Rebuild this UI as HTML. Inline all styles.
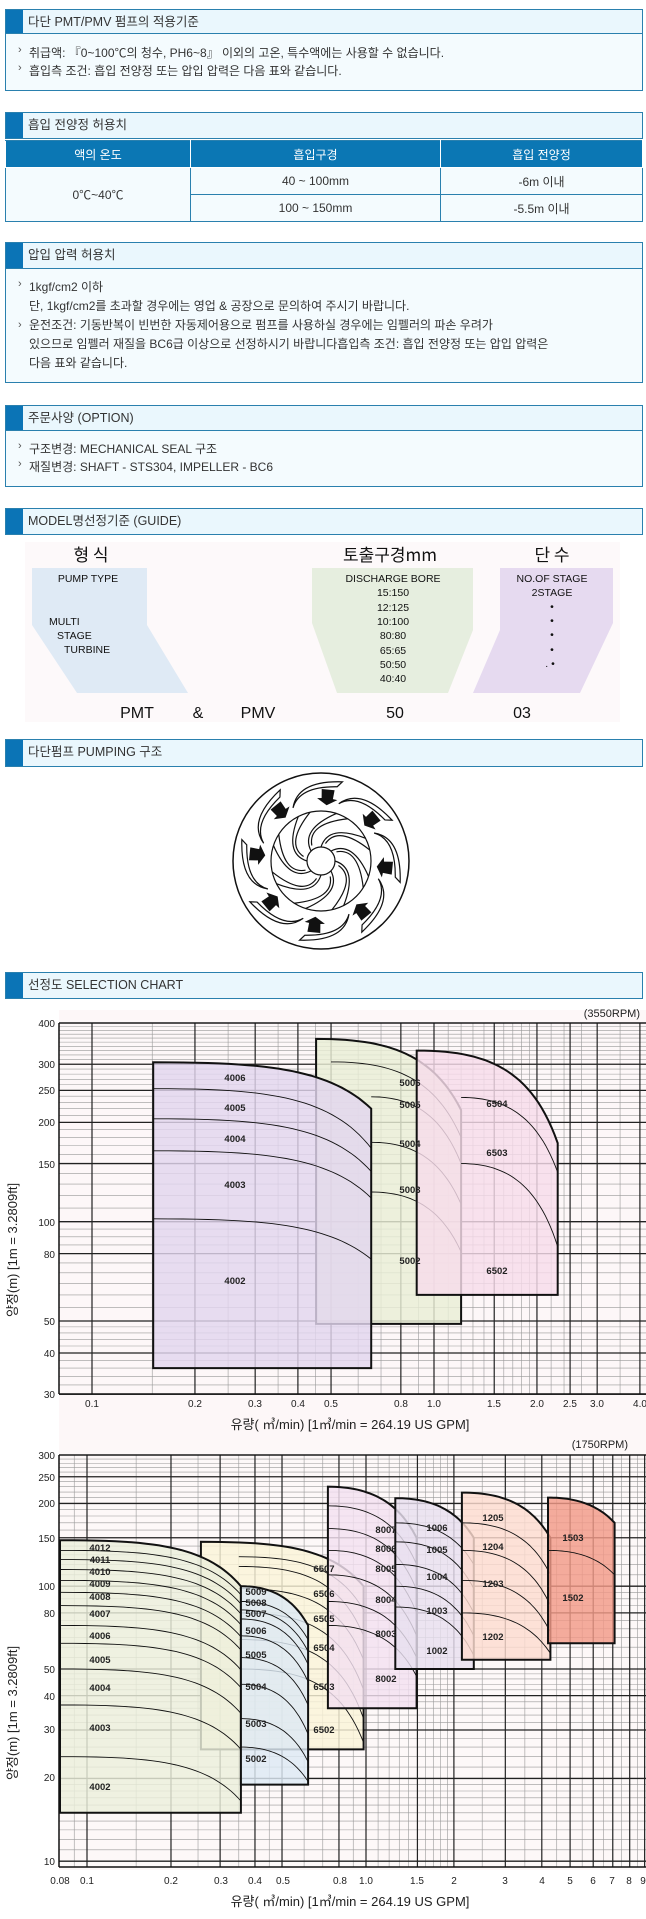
<!DOCTYPE html>
<html><head><meta charset="utf-8">
<style>
*{margin:0;padding:0;box-sizing:border-box}
body{width:646px;height:1919px;background:#fff;position:relative;overflow:hidden;font-family:"Liberation Sans","Noto Sans CJK KR",sans-serif;color:#333}
.box{position:absolute;left:5px;width:638px;border:1px solid #2a80ae;background:#f4fbfe}
.hd{position:absolute;left:5px;width:638px;border:1px solid #2a80ae;background:#eaf7fd;font-size:12.5px;line-height:24px;padding-left:22px;color:#333}
.hd:before{content:"";position:absolute;left:0;top:0;bottom:0;width:17px;background:#0b74b6}
.t{position:absolute;font-size:12px;white-space:nowrap;color:#333}
.b{position:absolute;font-size:11px;color:#555}
table{position:absolute;left:5px;top:140px;width:638px;border-collapse:collapse;font-size:12px}
td{border:1px solid #2a80ae;text-align:center;background:#f4fbfe;height:27px}
th{background:#0b77b4;color:#fff;font-weight:normal;height:27px;border:1px solid #fff;border-top-color:#2a80ae}
svg{position:absolute;left:0;top:0}
</style></head><body>

<div class="box" style="top:9px;height:82px"></div>
<div class="hd" style="top:9px;height:25px">다단 PMT/PMV 펌프의 적용기준</div>
<div class="b" style="left:18px;top:44px">›</div><div class="t" style="left:29px;top:44px">취급액: 『0~100℃의 청수, PH6~8』 이외의 고온, 특수액에는 사용할 수 없습니다.</div>
<div class="b" style="left:18px;top:62px">›</div><div class="t" style="left:29px;top:62px">흡입측 조건: 흡입 전양정 또는 압입 압력은 다음 표와 같습니다.</div>

<div class="hd" style="top:112px;height:27px">흡입 전양정 허용치</div>
<table>
<tr><th style="width:185px">액의 온도</th><th style="width:250px">흡입구경</th><th>흡입 전양정</th></tr>
<tr><td rowspan="2">0℃~40℃</td><td>40 ~ 100mm</td><td>-6m 이내</td></tr>
<tr><td>100 ~ 150mm</td><td>-5.5m 이내</td></tr>
</table>

<div class="box" style="top:242px;height:141px"></div>
<div class="hd" style="top:242px;height:27px">압입 압력 허용치</div>
<div class="b" style="left:18px;top:278px">›</div><div class="t" style="left:29px;top:278px">1kgf/cm2 이하</div>
<div class="t" style="left:29px;top:297px">단, 1kgf/cm2를 초과할 경우에는 영업 &amp; 공장으로 문의하여 주시기 바랍니다.</div>
<div class="b" style="left:18px;top:319px">›</div><div class="t" style="left:29px;top:316px">운전조건: 기동반복이 빈번한 자동제어용으로 펌프를 사용하실 경우에는 임펠러의 파손 우려가</div>
<div class="t" style="left:29px;top:335px">있으므로 임펠러 재질을 BC6급 이상으로 선정하시기 바랍니다흡입측 조건: 흡입 전양정 또는 압입 압력은</div>
<div class="t" style="left:29px;top:354px">다음 표와 같습니다.</div>

<div class="box" style="top:405px;height:82px"></div>
<div class="hd" style="top:405px;height:26px">주문사양 (OPTION)</div>
<div class="b" style="left:18px;top:440px">›</div><div class="t" style="left:29px;top:440px">구조변경: MECHANICAL SEAL 구조</div>
<div class="b" style="left:18px;top:458px">›</div><div class="t" style="left:29px;top:458px">재질변경: SHAFT - STS304, IMPELLER - BC6</div>

<div class="hd" style="top:508px;height:27px">MODEL명선정기준 (GUIDE)</div>
<div class="hd" style="top:739px;height:28px">다단펌프 PUMPING 구조</div>
<div class="hd" style="top:972px;height:27px">선정도 SELECTION CHART</div>

<svg width="646" height="1919" viewBox="0 0 646 1919" font-family="Liberation Sans, Noto Sans CJK KR, sans-serif">
<rect x="25" y="542" width="595" height="180" fill="#fdf9fa"/>
<polygon points="32,568 147,568 147,625 188,693 77,693 32,625" fill="#dfeaf5"/>
<polygon points="312,568 473,568 473,630 448,693 337,693 312,623" fill="#e6eedf"/>
<polygon points="500,568 613,568 613,623 580,693 473,693 500,630" fill="#e6daf0"/>
<g fill="#111" font-size="10.5" text-anchor="middle">
<text x="91" y="561" font-size="17" font-family="Noto Sans CJK KR, sans-serif">형 식</text>
<text x="88" y="582">PUMP  TYPE</text>
<text x="49" y="625" text-anchor="start">MULTI</text>
<text x="57" y="639" text-anchor="start">STAGE</text>
<text x="64" y="653" text-anchor="start">TURBINE</text>
<text x="390" y="561" font-size="17" font-family="Noto Sans CJK KR, sans-serif">토출구경mm</text>
<text x="393" y="582">DISCHARGE  BORE</text>
<text x="393" y="596">15:150</text><text x="393" y="611">12:125</text><text x="393" y="625">10:100</text>
<text x="393" y="639">80:80</text><text x="393" y="654">65:65</text><text x="393" y="668">50:50</text><text x="393" y="682">40:40</text>
<text x="552" y="561" font-size="17" font-family="Noto Sans CJK KR, sans-serif">단 수</text>
<text x="552" y="582">NO.OF  STAGE</text>
<text x="552" y="596">2STAGE</text>
<text x="552" y="610">•</text><text x="552" y="624">•</text><text x="552" y="638">•</text><text x="552" y="653">•</text><text x="550" y="667">. •</text>
<g font-size="16"><text x="137" y="718">PMT</text><text x="198" y="718">&amp;</text><text x="258" y="718">PMV</text><text x="395" y="718">50</text><text x="522" y="718">03</text></g>
</g>
<g id="pump" fill="none" stroke="#111" stroke-width="1.2"></g>

<rect x="59" y="1010" width="587" height="430" fill="#fdf7f8"/>
<g id="c1"></g>
<g font-size="10" fill="#222" text-anchor="end">
<text x="640" y="1017" font-size="11">(3550RPM)</text>
<text x="55" y="1027">400</text><text x="55" y="1068">300</text><text x="55" y="1094">250</text><text x="55" y="1126">200</text>
<text x="55" y="1168">150</text><text x="55" y="1226">100</text><text x="55" y="1258">80</text><text x="55" y="1325">50</text>
<text x="55" y="1357">40</text><text x="55" y="1398">30</text>
</g>
<g font-size="10" fill="#222" text-anchor="middle">
<text x="92" y="1407">0.1</text><text x="195" y="1407">0.2</text><text x="255" y="1407">0.3</text><text x="298" y="1407">0.4</text>
<text x="331" y="1407">0.5</text><text x="401" y="1407">0.8</text><text x="434" y="1407">1.0</text><text x="494" y="1407">1.5</text>
<text x="537" y="1407">2.0</text><text x="570" y="1407">2.5</text><text x="597" y="1407">3.0</text><text x="640" y="1407">4.0</text>
<text x="350" y="1429" font-size="13">유량( ㎥/min)    [1㎥/min = 264.19  US  GPM]</text>
<text transform="translate(17,1250) rotate(-90)" font-size="13">양정(m)   [1m = 3.2809ft]</text>
</g>
<g font-size="9.5" font-weight="bold" fill="#222" text-anchor="middle">
<text x="235" y="1081">4006</text><text x="235" y="1111">4005</text><text x="235" y="1142">4004</text><text x="235" y="1188">4003</text><text x="235" y="1284">4002</text>
<text x="410" y="1086">5006</text><text x="410" y="1108">5005</text><text x="410" y="1147">5004</text><text x="410" y="1193">5003</text><text x="410" y="1264">5002</text>
<text x="497" y="1107">6504</text><text x="497" y="1156">6503</text><text x="497" y="1274">6502</text>
</g>

<rect x="59" y="1440" width="587" height="430" fill="#fdf8f8"/>
<g id="c2"></g>
<g font-size="10" fill="#222" text-anchor="end">
<text x="628" y="1448" font-size="11">(1750RPM)</text>
<text x="55" y="1459">300</text><text x="55" y="1481">250</text><text x="55" y="1507">200</text><text x="55" y="1542">150</text>
<text x="55" y="1590">100</text><text x="55" y="1617">80</text><text x="55" y="1673">50</text><text x="55" y="1700">40</text>
<text x="55" y="1733">30</text><text x="55" y="1781">20</text><text x="55" y="1865">10</text>
</g>
<g font-size="10" fill="#222" text-anchor="middle">
<text x="60" y="1884">0.08</text><text x="87" y="1884">0.1</text><text x="171" y="1884">0.2</text><text x="221" y="1884">0.3</text>
<text x="255" y="1884">0.4</text><text x="283" y="1884">0.5</text><text x="340" y="1884">0.8</text><text x="366" y="1884">1.0</text>
<text x="417" y="1884">1.5</text><text x="454" y="1884">2</text><text x="505" y="1884">3</text><text x="542" y="1884">4</text>
<text x="570" y="1884">5</text><text x="593" y="1884">6</text><text x="612" y="1884">7</text><text x="629" y="1884">8</text><text x="643" y="1884">9</text>
<text x="350" y="1906" font-size="13">유량( ㎥/min)    [1㎥/min = 264.19  US  GPM]</text>
<text transform="translate(17,1713) rotate(-90)" font-size="13">양정(m)   [1m = 3.2809ft]</text>
</g>
<g font-size="9.5" font-weight="bold" fill="#222" text-anchor="middle">
<text x="100" y="1551">4012</text><text x="100" y="1563">4011</text><text x="100" y="1575">4010</text><text x="100" y="1587">4009</text>
<text x="100" y="1600">4008</text><text x="100" y="1617">4007</text><text x="100" y="1639">4006</text><text x="100" y="1663">4005</text>
<text x="100" y="1691">4004</text><text x="100" y="1731">4003</text><text x="100" y="1790">4002</text>
<text x="256" y="1595">5009</text><text x="256" y="1606">5008</text><text x="256" y="1617">5007</text><text x="256" y="1634">5006</text>
<text x="256" y="1658">5005</text><text x="256" y="1690">5004</text><text x="256" y="1727">5003</text><text x="256" y="1762">5002</text>
<text x="324" y="1572">6507</text><text x="324" y="1597">6506</text><text x="324" y="1622">6505</text><text x="324" y="1651">6504</text>
<text x="324" y="1690">6503</text><text x="324" y="1733">6502</text>
<text x="386" y="1533">8007</text><text x="386" y="1552">8006</text><text x="386" y="1572">8005</text><text x="386" y="1603">8004</text>
<text x="386" y="1637">8003</text><text x="386" y="1682">8002</text>
<text x="437" y="1531">1006</text><text x="437" y="1553">1005</text><text x="437" y="1580">1004</text><text x="437" y="1614">1003</text><text x="437" y="1654">1002</text>
<text x="493" y="1521">1205</text><text x="493" y="1550">1204</text><text x="493" y="1587">1203</text><text x="493" y="1640">1202</text>
<text x="573" y="1541">1503</text><text x="573" y="1601">1502</text>
</g>
</svg>

<script>
var NS="http://www.w3.org/2000/svg";
function el(p,t,a){var e=document.createElementNS(NS,t);for(var k in a)e.setAttribute(k,a[k]);p.appendChild(e);return e;}
var L=Math.log10;
var X1=function(q){return 92+342*L(q/0.1)},Y1=function(h){return 1023+330*L(400/h)};
var X2=function(q){return q<=1?87+279*L(q/0.1):366+292*L(q)},Y2=function(h){return 1455+275*L(300/h)};
function curve(X,Y,q0,q1,h0,h1,n){var pts=[];n=n||30;for(var i=0;i<=n;i++){var q=q0+(q1-q0)*i/n;var h=h0-(h0-h1)*Math.pow(i/n,2);pts.push(X(q).toFixed(1)+","+Y(h).toFixed(1));}return pts;}
function drawRegion(g,X,Y,r){
  var top=curve(X,Y,r.q0,r.q1,r.c[0][0],r.c[0][1]);
  var pts=[X(r.q0).toFixed(1)+","+Y(r.bot).toFixed(1)].concat(top,[X(r.q1).toFixed(1)+","+Y(r.bot).toFixed(1)]);
  el(g,"polygon",{points:pts.join(" "),fill:r.fill,"fill-opacity":0.82});
  for(var i=1;i<r.c.length;i++){var c=r.c[i];var qs=c[2]||r.q0;
    el(g,"polyline",{points:curve(X,Y,qs,r.q1,c[0],c[1]).join(" "),fill:"none",stroke:"#111","stroke-width":0.9});}
  el(g,"polygon",{points:pts.join(" "),fill:"none",stroke:"#111","stroke-width":2});
}
function grid(g,X,Y,x0,x1,y0,y1,xmaj,xmin,ymaj,ymin){
  ymin.forEach(function(h){var y=Y(h);el(g,"line",{x1:x0,x2:x1,y1:y,y2:y,stroke:"#999","stroke-width":0.6});});
  xmin.forEach(function(q){var x=X(q);el(g,"line",{x1:x,x2:x,y1:y0,y2:y1,stroke:"#999","stroke-width":0.6});});
  ymaj.forEach(function(h){var y=Y(h);el(g,"line",{x1:x0,x2:x1,y1:y,y2:y,stroke:"#222","stroke-width":1.3});});
  xmaj.forEach(function(q){var x=X(q);el(g,"line",{x1:x,x2:x,y1:y0,y2:y1,stroke:"#222","stroke-width":1.2});});
  el(g,"line",{x1:x0,x2:x0,y1:y0,y2:y1,stroke:"#111","stroke-width":1.5});
  el(g,"line",{x1:x0,x2:x1,y1:y1,y2:y1,stroke:"#111","stroke-width":1.5});
  el(g,"line",{x1:x0,x2:x1,y1:y0,y2:y0,stroke:"#111","stroke-width":1.3});
}
(function(){
 var g=document.getElementById("c1");
 var ymin=[],xmin=[];for(var h=32;h<100;h+=(h<50?2:5))ymin.push(h);for(h=110;h<400;h+=10)ymin.push(h);
 [0.15,0.25,0.35,0.45,0.6,0.7,0.9,1.1,1.2,1.3,1.4,1.6,1.7,1.8,1.9,2.2,2.4,2.7,3.5].forEach(function(q){xmin.push(q)});
 grid(g,X1,Y1,59,646,1023,1394,[0.1,0.2,0.3,0.4,0.5,0.8,1,1.5,2,2.5,3,4],xmin,[30,40,50,80,100,150,200,250,300,400],ymin);
 var R=[
  {q0:0.452,q1:1.2,bot:49,fill:"#e9eed6",c:[[358,218],[305,180,0.5],[239,150,0.655],[174,113,0.655],[123,81,0.655]]},
  {q0:0.89,q1:2.3,bot:60,fill:"#f6dcea",c:[[330,173],[238,141,1.2],[150,84,1.2]]},
  {q0:0.151,q1:0.655,bot:36,fill:"#e2d6ee",c:[[304,220],[253,167],[205,142],[164,118],[102,77]]}];
 R.forEach(function(r){drawRegion(g,X1,Y1,r)});
})();
(function(){
 var g=document.getElementById("c2");
 var ymin=[];for(var h=11;h<20;h++)ymin.push(h);for(h=22;h<50;h+=2)ymin.push(h);for(h=55;h<100;h+=5)ymin.push(h);for(h=110;h<300;h+=10)ymin.push(h);
 var xmin=[0.09,0.15,0.25,0.35,0.45,0.6,0.7,0.9,1.1,1.2,1.3,1.4,1.6,1.7,1.8,1.9,2.5,3.5,4.5,5.5,6.5,7.5,8.5];
 grid(g,X2,Y2,59,646,1455,1867,[0.1,0.2,0.3,0.4,0.5,0.8,1,1.5,2,3,4,5,6,7,8,9],xmin,[10,20,30,40,50,80,100,150,200,250,300],ymin);
 var f=function(a,r){return a.map(function(v){return [v,v*r]})};
 var c4=[[147,100]].concat(f([135,125,115,105,95,85,72,62,50,37,24],0.69));
 var R=[
  {q0:0.256,q1:0.98,bot:25.5,fill:"#faf4d8",c:[[145,100],[128,82,0.35],[118,66,0.35],[98,54,0.35],[80,42,0.35],[64,33,0.35],[50,27,0.35]]},
  {q0:0.08,q1:0.356,bot:15,fill:"#ebefdc",c:c4},
  {q0:0.356,q1:0.62,bot:19,fill:"#dde9f4",c:[[100,72],[88,64],[82,58],[76,52],[66,45],[55,37],[44,29],[33,23],[26,19.5]]},
  {q0:0.73,q1:1.49,bot:36,fill:"#f3e0f0",c:[[230,150],[196,120],[162,97],[135,80],[110,66],[88,55],[72,47]]},
  {q0:1.26,q1:2.34,bot:50,fill:"#e8dfef",c:[[209,150],[170,120],[145,98],[120,80],[100,66],[84,56]]},
  {q0:2.13,q1:4.28,bot:54,fill:"#fcdccf",c:[[219,150],[170,110],[135,85],[105,68],[80,57]]},
  {q0:4.2,q1:7.1,bot:62,fill:"#f19a88",c:[[210,170],[135,110]]}];
 R.forEach(function(r){drawRegion(g,X2,Y2,r)});
})();
(function(){
 var g=document.getElementById("pump"),cx=321,cy=861;
 el(g,"circle",{cx:cx,cy:cy,r:88,"stroke-width":1.5});
 el(g,"circle",{cx:cx,cy:cy,r:50});
 el(g,"circle",{cx:cx,cy:cy,r:14});
 for(var i=0;i<8;i++){var a=i*Math.PI/4;
   var a1=a, a2=a+1.1;
   var p1=[cx+14*Math.cos(a1),cy+14*Math.sin(a1)],p2=[cx+50*Math.cos(a2),cy+50*Math.sin(a2)];
   var m=[cx+38*Math.cos(a1+0.2),cy+38*Math.sin(a1+0.2)];
   el(g,"path",{d:"M"+p1+" Q"+m+" "+p2});
   el(g,"path",{d:"M"+[cx+18*Math.cos(a1+0.25),cy+18*Math.sin(a1+0.25)]+" Q"+[cx+40*Math.cos(a1+0.45),cy+40*Math.sin(a1+0.45)]+" "+[cx+50*Math.cos(a2+0.25),cy+50*Math.sin(a2+0.25)]});
   var b=a+0.3;
   el(g,"path",{d:"M"+[cx+60*Math.cos(b),cy+60*Math.sin(b)]+" Q"+[cx+84*Math.cos(b+0.2),cy+84*Math.sin(b+0.2)]+" "+[cx+82*Math.cos(b+0.75),cy+82*Math.sin(b+0.75)]+" L"+[cx+76*Math.cos(b+0.7),cy+76*Math.sin(b+0.7)]+" Q"+[cx+78*Math.cos(b+0.2),cy+78*Math.sin(b+0.2)]+" "+[cx+60*Math.cos(b),cy+60*Math.sin(b)]});
   var c=a+0.1,r0=72,r1=56,w=0.09;
   var tip=[cx+r1*Math.cos(c),cy+r1*Math.sin(c)];
   var s1=[cx+r0*Math.cos(c-w),cy+r0*Math.sin(c-w)],s2=[cx+r0*Math.cos(c+w),cy+r0*Math.sin(c+w)];
   var h1=[cx+63*Math.cos(c-w*1.8),cy+63*Math.sin(c-w*1.8)],h2=[cx+63*Math.cos(c+w*1.8),cy+63*Math.sin(c+w*1.8)];
   var n1=[cx+63*Math.cos(c-w),cy+63*Math.sin(c-w)],n2=[cx+63*Math.cos(c+w),cy+63*Math.sin(c+w)];
   el(g,"polygon",{points:[s1,n1,h1,tip,h2,n2,s2].join(" "),fill:"#111",stroke:"none"});
 }
})();
</script>
</body></html>
